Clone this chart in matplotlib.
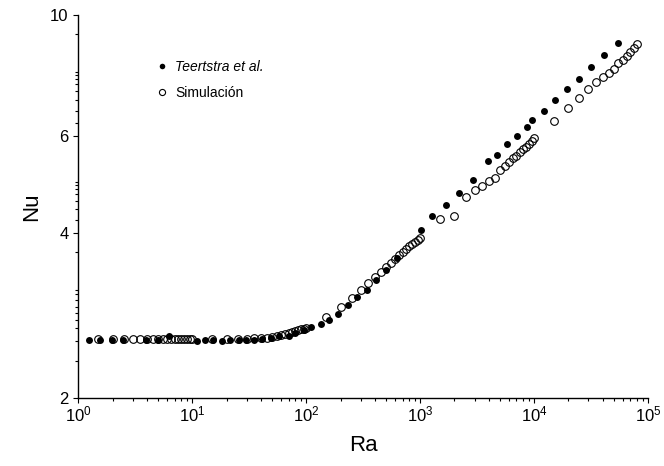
import numpy as np
import matplotlib
matplotlib.use("Agg")
import matplotlib.pyplot as plt
from matplotlib.ticker import FixedLocator, LogLocator, NullFormatter, FixedFormatter

plt.rcParams['font.family'] = ['Liberation Sans', 'DejaVu Sans']
plt.rcParams['mathtext.fontset'] = 'custom'
plt.rcParams['mathtext.rm'] = 'Liberation Sans'
plt.rcParams['mathtext.it'] = 'Liberation Sans:italic'

# === DATA ===
teer_ra = [1.24, 1.54, 1.97, 2.46, 3.95, 4.98, 6.3, 10.9, 13.0, 15.3, 18.3, 21.5,
           25.5, 29.5, 34.5, 41, 48.7, 58, 70, 80, 95.5, 111, 135, 160, 190, 233,
           279, 341, 409, 505, 625, 1020, 1282, 1675, 2193, 2884, 3955, 4768, 5834,
           7094, 8726, 9646, 12130, 15140, 19400, 24700, 31300, 41400, 54100]
teer_nu = [2.555, 2.555, 2.555, 2.555, 2.55, 2.555, 2.59, 2.54, 2.555, 2.55, 2.545, 2.55,
           2.55, 2.555, 2.555, 2.56, 2.575, 2.59, 2.60, 2.63, 2.66, 2.70, 2.73, 2.77, 2.85, 2.95,
           3.06, 3.15, 3.29, 3.42, 3.60, 4.05, 4.30, 4.50, 4.74, 5.00, 5.41, 5.55, 5.81,
           6.00, 6.24, 6.43, 6.69, 6.98, 7.32, 7.65, 8.05, 8.44, 8.88]

sim_ra = [1.5, 2, 2.5, 3, 3.5, 4, 4.5, 5, 5.5, 6, 6.5, 7, 7.5, 8, 8.5, 9, 9.5, 10,
          15, 20, 25, 30, 35, 40, 45, 50, 55, 60, 65, 70, 75, 80, 85, 90, 95,
          100, 150, 200, 250, 300, 350, 400, 450, 500, 550, 600, 650, 700, 750, 800,
          850, 900, 950, 1000,
          1500, 2000, 2500, 3000, 3500, 4000, 4500, 5000, 5500, 6000, 6500, 7000,
          7500, 8000, 8500, 9000, 9500, 10000,
          15000, 20000, 25000, 30000, 35000, 40000, 45000, 50000, 55000, 60000,
          65000, 70000, 75000, 80000]
sim_nu = [2.56, 2.56, 2.56, 2.56, 2.56, 2.56, 2.56, 2.56, 2.56, 2.56, 2.56, 2.56, 2.56,
          2.56, 2.56, 2.56, 2.56, 2.56,
          2.56, 2.56, 2.56, 2.565, 2.57, 2.57, 2.575, 2.58, 2.59, 2.61, 2.62, 2.63, 2.64,
          2.65, 2.66, 2.67, 2.675,
          2.68, 2.81, 2.93, 3.04, 3.15, 3.24, 3.32, 3.40, 3.47, 3.53, 3.59, 3.65, 3.70,
          3.74, 3.78, 3.82, 3.85, 3.88, 3.91,
          4.24, 4.30, 4.66, 4.80, 4.88, 4.98, 5.05, 5.21, 5.30, 5.38, 5.48, 5.53,
          5.61, 5.69, 5.75, 5.81, 5.89, 5.96,
          6.41, 6.77, 7.06, 7.32, 7.54, 7.69, 7.85, 7.97, 8.16, 8.28,
          8.42, 8.54, 8.69, 8.84]

y_major = [2, 4, 6, 10]
y_minor = [2.34, 2.54, 2.68, 2.78, 2.86, 2.93, 3.02, 3.09, 3.15, 3.69,
           4.22, 4.43, 4.58, 4.71, 4.82, 4.90, 4.96,
           6.35, 6.68, 6.99, 7.27, 7.48, 7.64, 7.77, 7.87, 9.23]

fig = plt.figure(figsize=(6.64, 4.66), dpi=100)
ax = fig.add_axes([0.118, 0.146, 0.858, 0.822])

ax.plot(sim_ra, sim_nu, 'o', mfc='none', mec='black', ms=5.5, mew=0.8,
        label='Simulación', zorder=2)
ax.plot(teer_ra, teer_nu, 'o', mfc='black', mec='black', ms=5, mew=0,
        label='Teertstra et al.', zorder=3)

ax.set_xscale('log')
ax.set_yscale('log')
ax.set_xlim(1, 1e5)
ax.set_ylim(2, 10)

ax.xaxis.set_major_locator(LogLocator(base=10, numticks=10))
ax.xaxis.set_minor_locator(LogLocator(base=10, subs=np.arange(2, 10), numticks=20))
ax.xaxis.set_minor_formatter(NullFormatter())

ax.yaxis.set_major_locator(FixedLocator(y_major))
ax.yaxis.set_major_formatter(FixedFormatter([str(v) for v in y_major]))
ax.yaxis.set_minor_locator(FixedLocator(y_minor))
ax.yaxis.set_minor_formatter(NullFormatter())

for side in ['top', 'right']:
    ax.spines[side].set_visible(False)
for side in ['left', 'bottom']:
    ax.spines[side].set_linewidth(1.0)

ax.tick_params(which='major', direction='out', length=3.5, width=0.8, labelsize=12)
ax.tick_params(which='minor', direction='out', length=2, width=0.8)
ax.tick_params(axis='x', pad=1)

ax.set_xlabel('Ra', fontsize=16, labelpad=8)
ax.set_ylabel('Nu', fontsize=16, labelpad=6)

handles, labels = ax.get_legend_handles_labels()
leg = ax.legend(handles[::-1], labels[::-1], loc='upper left', bbox_to_anchor=(0.113, 0.914),
                frameon=False, fontsize=10, handlelength=1.0, handletextpad=0.45,
                labelspacing=0.85, markerscale=0.8)
leg.get_texts()[0].set_fontstyle('italic')

fig.savefig('out.png', dpi=100)
